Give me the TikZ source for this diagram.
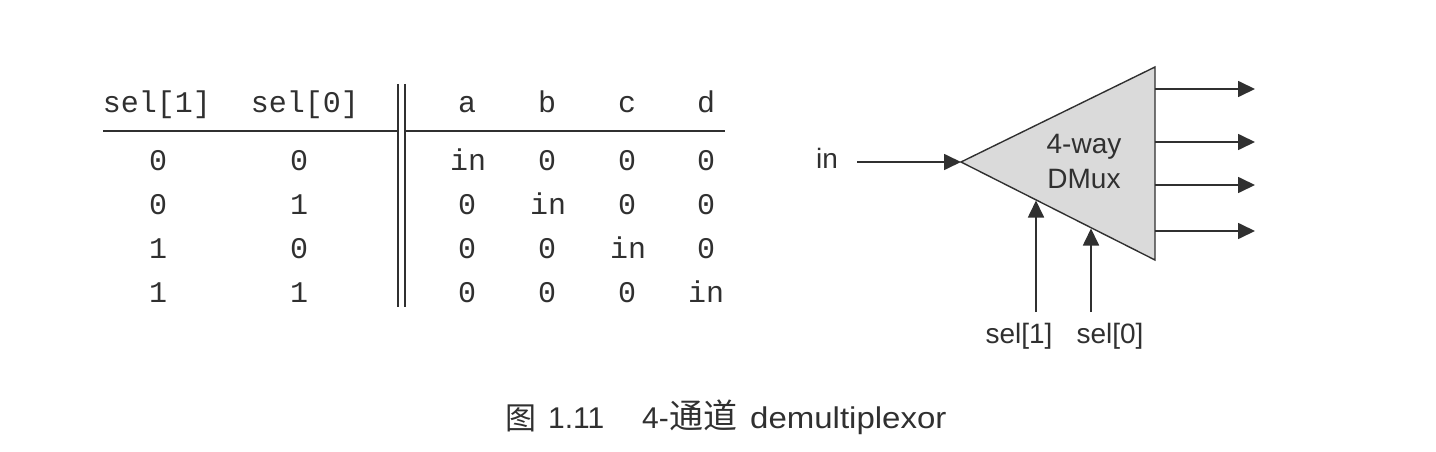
\documentclass[tikz,border=0pt]{standalone}
\usepackage{fontspec}
\usepackage{graphicx}
\setmainfont{Liberation Sans}
\newfontfamily\monof{Liberation Mono}
\newfontfamily\cjkf{Noto Sans CJK SC}
\usetikzlibrary{arrows.meta}
\definecolor{ink}{HTML}{303030}
\definecolor{muxfill}{HTML}{DADADA}
\begin{document}
\begin{tikzpicture}[x=1pt,y=-1pt,
  mono/.style={font=\monof\fontsize{30}{30}\selectfont, text=ink, inner sep=0pt, anchor=base},
  sans/.style={font=\fontsize{28}{28}\selectfont, text=ink, inner sep=0pt, anchor=base},
  captext/.style={font=\fontsize{30}{30}\selectfont, text=ink, inner sep=0pt, anchor=base west},
  wire/.style={draw=ink, line width=1.7pt, -{Triangle[length=17pt,width=16pt]}},
  tabrule/.style={draw=ink, line width=1.9pt},
  dbl/.style={draw=ink, line width=1.5pt}]
\useasboundingbox (0,0) rectangle (1436,452);
% ---------- table ----------
\node[mono] (h1) at (157,113) {sel[1]};
\node[mono] (h2) at (305,113) {sel[0]};
\node[mono] (ha) at (467,113) {a};
\node[mono] (hb) at (547,113) {b};
\node[mono] (hc) at (627,113) {c};
\node[mono] (hd) at (706,113) {d};
\coordinate (rA) at (103,131);
\coordinate (rB) at (398,131);
\coordinate (rC) at (405,131);
\coordinate (rD) at (725,131);
\draw[tabrule] (rA) -- (rB);
\draw[tabrule] (rC) -- (rD);
\coordinate (v1t) at (398,84);
\coordinate (v1b) at (398,307);
\coordinate (v2t) at (405,84);
\coordinate (v2b) at (405,307);
\draw[dbl] (v1t) -- (v1b);
\draw[dbl] (v2t) -- (v2b);
% rows
\node[mono] (r1s1) at (158,170) {0};
\node[mono] (r1s0) at (299,170) {0};
\node[mono] (r1a) at (468,170) {in};
\node[mono] (r1b) at (547,170) {0};
\node[mono] (r1c) at (627,170) {0};
\node[mono] (r1d) at (706,170) {0};
\node[mono] (r2s1) at (158,214) {0};
\node[mono] (r2s0) at (299,214) {1};
\node[mono] (r2a) at (467,214) {0};
\node[mono] (r2b) at (548,214) {in};
\node[mono] (r2c) at (627,214) {0};
\node[mono] (r2d) at (706,214) {0};
\node[mono] (r3s1) at (158,258) {1};
\node[mono] (r3s0) at (299,258) {0};
\node[mono] (r3a) at (467,258) {0};
\node[mono] (r3b) at (547,258) {0};
\node[mono] (r3c) at (628,258) {in};
\node[mono] (r3d) at (706,258) {0};
\node[mono] (r4s1) at (158,302) {1};
\node[mono] (r4s0) at (299,302) {1};
\node[mono] (r4a) at (467,302) {0};
\node[mono] (r4b) at (547,302) {0};
\node[mono] (r4c) at (627,302) {0};
\node[mono] (r4d) at (706,302) {in};
% ---------- demux ----------
\coordinate (tip) at (961,162);
\coordinate (tr) at (1155,67);
\coordinate (br) at (1155,260);
\filldraw[fill=muxfill, draw=ink, line width=1.4pt, line join=miter] (tip) -- (tr) -- (br) -- cycle;
\node[sans] (way) at (1084,153) {4-way};
\node[sans] (dmux) at (1084,188) {DMux};
\node[sans] (inl) at (827,168) {in};
\coordinate (inS) at (857,162);
\draw[wire] (inS) -- (tip);
\coordinate (oa) at (1155,89);  \coordinate (oae) at (1255,89);
\coordinate (ob) at (1155,142); \coordinate (obe) at (1255,142);
\coordinate (oc) at (1155,185); \coordinate (oce) at (1255,185);
\coordinate (od) at (1155,231); \coordinate (ode) at (1255,231);
\draw[wire] (oa) -- (oae);
\draw[wire] (ob) -- (obe);
\draw[wire] (oc) -- (oce);
\draw[wire] (od) -- (ode);
\coordinate (s1S) at (1036,312); \coordinate (s1E) at (1036,200.5);
\coordinate (s0S) at (1091,312); \coordinate (s0E) at (1091,228.5);
\draw[wire] (s1S) -- (s1E);
\draw[wire] (s0S) -- (s0E);
\node[sans] (sl1) at (1019,343) {sel[1]};
\node[sans] (sl0) at (1110,343) {sel[0]};
% ---------- caption ----------
\node[captext] (fig) at (505,429) {\cjkf\fontsize{31}{31}\selectfont 图};
\node[captext] (num) at (548,428) {1.11};
\node[captext] (four) at (642,428) {4-};
\node[captext] (tongdao) at (four.base east) {\cjkf\fontsize{34}{34}\selectfont 通道};
\node[captext] (dm) at (750,428) {\scalebox{1.1}[1]{demultiplexor}};
\end{tikzpicture}
\end{document}
